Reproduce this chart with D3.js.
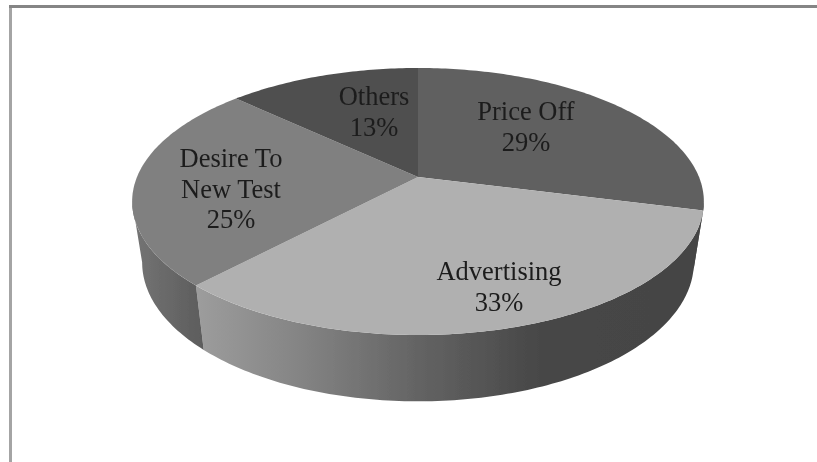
<!DOCTYPE html>
<html>
<head>
<meta charset="utf-8">
<script src="https://cdn.jsdelivr.net/npm/d3@7"></script>
<style>
  html, body { margin: 0; padding: 0; background: #fff; }
  svg { display: block; }
  text { font-family: "Liberation Serif", serif; font-size: 26.5px; fill: #1c1c1c; text-anchor: middle; }
</style>
</head>
<body>
<script>
'use strict';

const categories = ['Price Off', 'Advertising', 'Desire To New Test', 'Others'];
const values = [29, 33, 25, 13];
const labelLines = [['Price Off', '29%'], ['Advertising', '33%'], ['Desire To', 'New Test', '25%'], ['Others', '13%']];
const topColors = ['#606060', '#b0b0b0', '#808080', '#505050'];

const width = 817, height = 462;

// perspective of the disc, fitted to the picture
const cx = 418, cy = 177;
const radiusX = 281, radiusY = 129, tilt = 0.1835;

function project(angle, base) {
  const w = 1 + tilt * Math.cos(angle);
  const sx = base ? 0.965 : 1, sy = base ? 1.04 : 1, dy = base ? 60 : 0;
  return [
    cx + sx * radiusX * Math.sin(angle) / w,
    cy + dy - sy * radiusY * Math.cos(angle) / w
  ];
}

function arcPoints(a0, a1, base) {
  const n = Math.max(2, Math.ceil((a1 - a0) * 60));
  return d3.range(n + 1).map(i => project(a0 + (a1 - a0) * i / n, base));
}

const svg = d3.select('body').append('svg')
    .attr('width', width)
    .attr('height', height);

const defs = svg.append('defs');
defs.append('filter').attr('id', 'soft')
  .append('feGaussianBlur').attr('stdDeviation', 0.45);

// frame, the left side is paler than the top
svg.append('path')
    .attr('d', `M10.5,5V${height}`)
    .attr('stroke', '#a4a4a4')
    .attr('stroke-width', 3);
svg.append('path')
    .attr('d', `M9,6.5H${width}`)
    .attr('stroke', '#858585')
    .attr('stroke-width', 3);

const slices = d3.pie().sort(null).value(d => d)(values);
const line = d3.line();
const chart = svg.append('g').attr('filter', 'url(#soft)');

// wall shading runs left to right across each slice
function wallGradient(id, stops) {
  const g = defs.append('linearGradient').attr('id', id)
      .attr('gradientUnits', 'userSpaceOnUse')
      .attr('x1', 130).attr('x2', 710).attr('y1', 0).attr('y2', 0);
  stops.forEach(s => g.append('stop')
      .attr('offset', (s[0] - 130) / 580)
      .attr('stop-color', s[1]));
}
wallGradient('wall-desire', [[134, '#747474'], [205, '#5c5c5c']]);
wallGradient('wall-adv', [[200, '#9c9c9c'], [300, '#848484'], [420, '#636363'], [540, '#474747'], [704, '#444444']]);
wallGradient('wall-price', [[690, '#4a4a4a'], [704, '#505050']]);
const wallFill = ['wall-price', 'wall-adv', 'wall-desire'];

// visible walls, between the two points where the outline turns back
const turn = Math.acos(-tilt);
const front0 = turn, front1 = 2 * Math.PI - turn;
slices.forEach((d, i) => {
  const a0 = Math.max(d.startAngle, front0), a1 = Math.min(d.endAngle, front1);
  if (a1 <= a0) return;
  const pts = arcPoints(a0, a1, false).concat(arcPoints(a0, a1, true).reverse());
  chart.append('path')
      .attr('d', line(pts) + 'Z')
      .attr('fill', `url(#${wallFill[i]})`);
});

// top face
chart.selectAll('path.top')
  .data(slices)
  .join('path')
    .attr('class', 'top')
    .attr('fill', (d, i) => topColors[i])
    .attr('d', d => line([[cx, cy]].concat(arcPoints(d.startAngle, d.endAngle, false))) + 'Z');

// labels
const labelX = [526, 499, 231, 374];
const labelY = [120, 280, 167, 105];
const lineStep = 30.7;
const labels = svg.append('g').attr('filter', 'url(#soft)');
labelLines.forEach((lines, i) => {
  labels.append('text')
      .attr('aria-label', categories[i])
      .selectAll('tspan')
      .data(lines)
      .join('tspan')
        .attr('x', labelX[i])
        .attr('y', (d, j) => labelY[i] + j * lineStep)
        .text(d => d);
});
</script>
</body>
</html>
